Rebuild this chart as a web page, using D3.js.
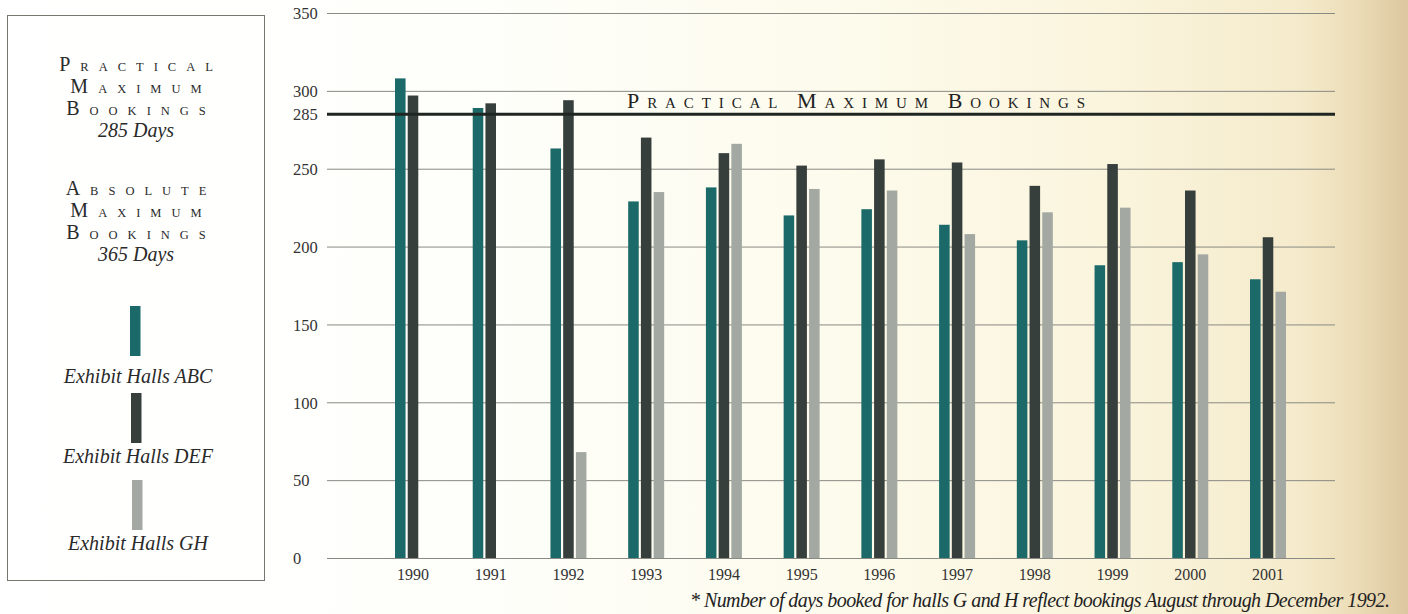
<!DOCTYPE html>
<html>
<head>
<meta charset="utf-8">
<script src="https://cdn.jsdelivr.net/npm/d3@7"></script>
<style>
  html, body { margin: 0; padding: 0; background: #fff; }
  svg { display: block; }
  text { font-family: "Liberation Serif", "DejaVu Serif", serif; fill: #2a2a2a; }
</style>
</head>
<body>
<svg id="chart" width="1408" height="614"></svg>
<script>
// Days booked per year for each group of exhibit halls
const years = ["1990","1991","1992","1993","1994","1995","1996","1997","1998","1999","2000","2001"];
const seriesNames = ["Exhibit Halls ABC", "Exhibit Halls DEF", "Exhibit Halls GH"];
const hallsABC = [308, 289, 263, 229, 238, 220, 224, 214, 204, 188, 190, 179];
const hallsDEF = [297, 292, 294, 270, 260, 252, 256, 254, 239, 253, 236, 206];
const hallsGH  = [null, null, 68, 235, 266, 237, 236, 208, 222, 225, 195, 171];
const yTicks = [0, 50, 100, 150, 200, 250, 300, 350];
const practicalMax = 285;
const absoluteMax = 365;
const footnote = "* Number of days booked for halls G and H reflect bookings August through December 1992.";

const colors = ["#1b6a69", "#373f3c", "#a3a8a2"];
const seriesValues = [hallsABC, hallsDEF, hallsGH];

const svg = d3.select("#chart");
const W = 1408, H = 614;

// Paper background, warming toward the right edge
const defs = svg.append("defs");
const bg = defs.append("linearGradient").attr("id", "paper").attr("x1", 0).attr("x2", 1).attr("y1", 0).attr("y2", 0);
[[0, "#ffffff"], [0.35, "#fefefa"], [0.6, "#fdfbec"], [0.8, "#faf4dc"], [0.92, "#f5ebcc"], [0.96, "#eddeb9"], [1, "#dcc79f"]]
  .forEach(([o, c]) => bg.append("stop").attr("offset", o).attr("stop-color", c));
svg.append("rect").attr("width", W).attr("height", H).attr("fill", "url(#paper)");

// Scales
const y = d3.scaleLinear().domain([0, 350]).range([558, 13]);
const x = d3.scaleBand().domain(years).range([395, 1286]).paddingInner(0.537).paddingOuter(0).align(0);
const xs = d3.scaleBand().domain(seriesNames).range([0, x.bandwidth()]).paddingInner(0.17);
const gridLeft = 327, gridRight = 1335;

// Horizontal gridlines with tick labels
const yAxis = d3.axisLeft(y)
  .tickValues(yTicks.concat([practicalMax]))
  .tickSize(-(gridRight - gridLeft))
  .tickFormat(d3.format("d"));
const gy = svg.append("g").attr("transform", `translate(${gridLeft},0)`).call(yAxis);
gy.select(".domain").remove();
gy.selectAll(".tick line")
  .attr("stroke", d => d === practicalMax ? "none" : "#8a8a84")
  .attr("stroke-width", 1);
gy.selectAll(".tick text")
  .attr("x", -34).attr("dy", "0.35em")
  .attr("text-anchor", "start")
  .style("font-family", "'Liberation Serif', serif")
  .style("font-size", "16.5px")
  .style("fill", "#333");

// Bars
const rows = years.map((yr, i) => ({ year: yr, vals: seriesNames.map((s, k) => ({ s, k, v: seriesValues[k][i] })) }));
const groups = svg.append("g").selectAll("g").data(rows).join("g")
  .attr("transform", d => `translate(${x(d.year)},0)`);
groups.selectAll("rect").data(d => d.vals.filter(e => e.v != null)).join("rect")
  .attr("x", e => xs(e.s))
  .attr("width", xs.bandwidth())
  .attr("y", e => y(e.v))
  .attr("height", e => y(0) - y(e.v))
  .attr("fill", e => colors[e.k]);

// Practical maximum line
svg.append("line")
  .attr("x1", gridLeft).attr("x2", gridRight)
  .attr("y1", y(practicalMax)).attr("y2", y(practicalMax))
  .attr("stroke", "#1f2622").attr("stroke-width", 3);

// Small-caps text helper: first letter of each word full size, the rest reduced
function smallCaps(sel, words, big, small, spacing) {
  words.forEach((w, wi) => {
    if (wi > 0) sel.append("tspan").style("font-size", small + "px").text("\u00a0");
    sel.append("tspan").style("font-size", big + "px").text(w[0].toUpperCase());
    sel.append("tspan").style("font-size", small + "px").text(w.slice(1).toUpperCase());
  });
  sel.style("letter-spacing", spacing + "px");
  return sel;
}

smallCaps(svg.append("text").attr("x", 627).attr("y", 108).style("fill", "#222"),
  ["Practical", "Maximum", "Bookings"], 22, 15, 7.9);

// Year labels
svg.append("g").selectAll("text").data(years).join("text")
  .attr("x", d => x(d) + x.bandwidth() / 2)
  .attr("y", 580)
  .attr("text-anchor", "middle")
  .style("font-size", "16px")
  .style("fill", "#333")
  .text(d => d);

// Footnote
svg.append("text")
  .attr("x", 690).attr("y", 607)
  .attr("textLength", 700).attr("lengthAdjust", "spacing")
  .style("font-style", "italic").style("font-size", "20px").style("fill", "#222")
  .text(footnote);

// Legend panel
const lg = svg.append("g");
lg.append("rect").attr("x", 7.5).attr("y", 15.5).attr("width", 257).attr("height", 565)
  .attr("fill", "none").attr("stroke", "#77776f").attr("stroke-width", 1);
const cx = 136;
const capLines = [
  { words: ["Practical"], y: 71 }, { words: ["Maximum"], y: 93 }, { words: ["Bookings"], y: 115 },
  { words: ["Absolute"], y: 195 }, { words: ["Maximum"], y: 217 }, { words: ["Bookings"], y: 239 }
];
capLines.forEach(l => {
  smallCaps(lg.append("text").attr("x", cx + 5).attr("y", l.y).attr("text-anchor", "middle"), l.words, 20, 12.5, 10);
});
[[practicalMax, 137], [absoluteMax, 261]].forEach(([v, yy]) => {
  lg.append("text").attr("x", cx).attr("y", yy).attr("text-anchor", "middle")
    .style("font-style", "italic").style("font-size", "20px").text(`${v} Days`);
});
const legendRows = [{ top: 306, base: 383 }, { top: 393, base: 463 }, { top: 480, base: 550 }];
seriesNames.forEach((s, k) => {
  lg.append("rect").attr("x", 130 + k).attr("y", legendRows[k].top).attr("width", 10.5).attr("height", 50).attr("fill", colors[k]);
  lg.append("text").attr("x", cx + 2).attr("y", legendRows[k].base).attr("text-anchor", "middle")
    .style("font-style", "italic").style("font-size", "20px").text(s);
});
</script>
</body>
</html>
